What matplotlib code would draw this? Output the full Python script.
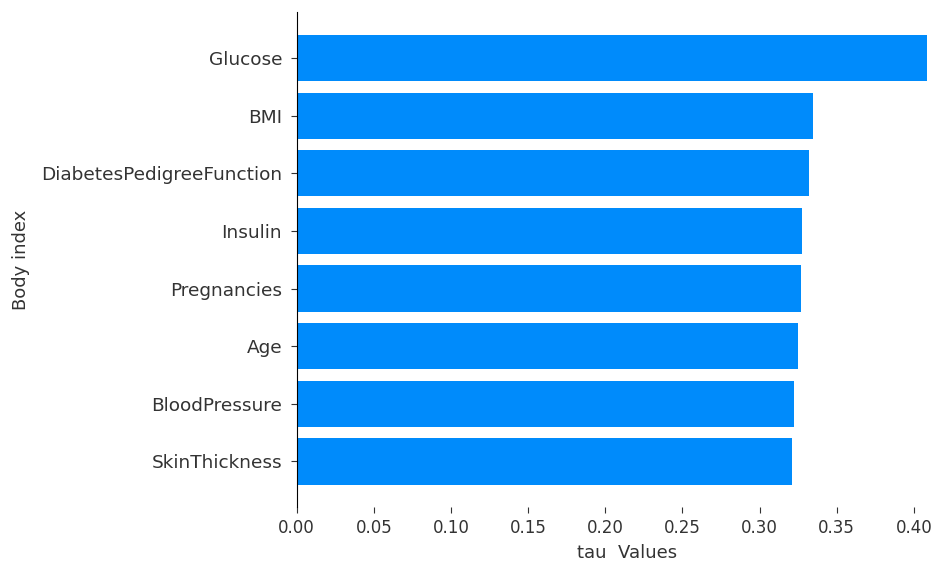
import matplotlib
matplotlib.use("Agg")
import matplotlib.pyplot as plt

# Features ordered from bottom to top of the chart
features = [
    "SkinThickness",
    "BloodPressure",
    "Age",
    "Pregnancies",
    "Insulin",
    "DiabetesPedigreeFunction",
    "BMI",
    "Glucose",
]
tau_values = [0.3209, 0.3226, 0.3250, 0.3269, 0.3278, 0.3321, 0.3347, 0.4083]
x_ticks = [0.00, 0.05, 0.10, 0.15, 0.20, 0.25, 0.30, 0.35, 0.40]

bar_color = "#008bfb"
text_color = "#333333"

fig = plt.figure(figsize=(9.37, 5.62), dpi=100)
# the axes runs a little past the right edge of the canvas
ax = fig.add_axes([0.3166, 0.0979, 0.706, 0.8799])

positions = list(range(len(features)))
ax.barh(positions, tau_values, height=0.8, color=bar_color)

ax.set_yticks(positions)
ax.set_yticklabels(features, fontsize=13.3, color=text_color)
ax.set_xticks(x_ticks)
ax.set_xticklabels([f"{t:.2f}" for t in x_ticks], fontsize=12, color=text_color)
ax.set_xlim(0, max(tau_values) * 1.05)

ax.spines["top"].set_visible(False)
ax.spines["right"].set_visible(False)
ax.spines["bottom"].set_visible(False)
ax.tick_params(axis="x", colors=text_color, length=4.5, pad=4)
ax.tick_params(axis="y", colors=text_color, length=4.5, pad=6)

ax.set_xlabel("tau  Values", fontsize=13, color=text_color, labelpad=5)
ax.set_ylabel("Body index", fontsize=13, color=text_color, labelpad=8)

fig.savefig("out.png", dpi=100)
